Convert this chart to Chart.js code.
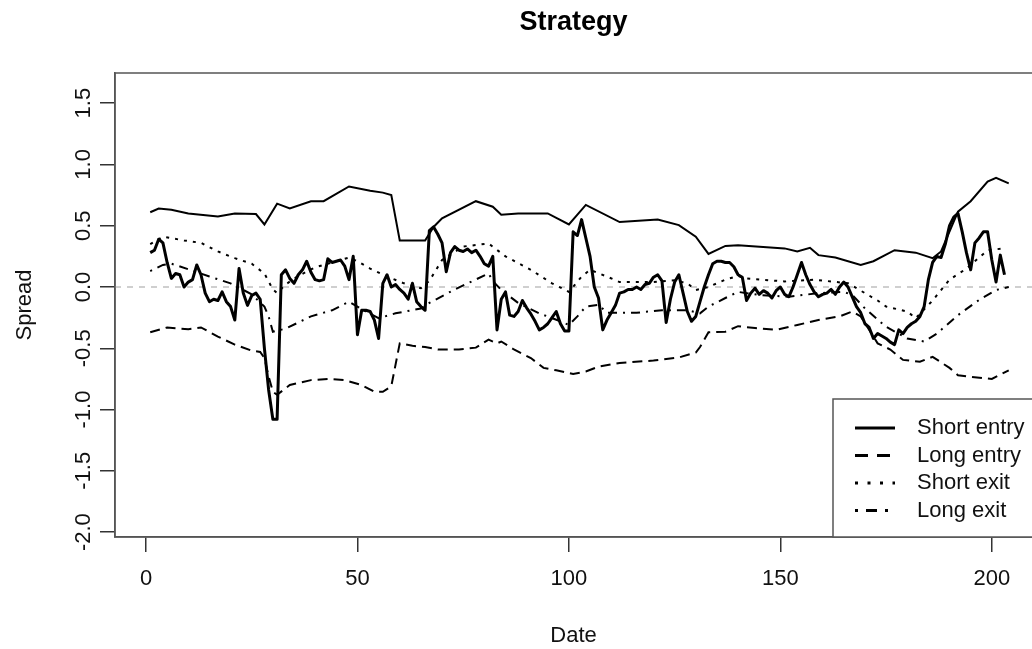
<!DOCTYPE html>
<html>
<head>
<meta charset="utf-8">
<title>Strategy</title>
<script src="https://cdn.jsdelivr.net/npm/chart.js@4.4.1/dist/chart.umd.min.js"></script>
<style>
  html, body { margin: 0; padding: 0; background: #fff; overflow: hidden; }
  #wrap { width: 1032px; height: 649px; }
</style>
</head>
<body>
<div id="wrap"><canvas id="myChart" width="1032" height="649"></canvas></div>
<script>
// spread, one value per date (1..203)
let spreadValues = [
  0.28, 0.30, 0.39, 0.36, 0.20, 0.07, 0.11, 0.10, 0.00, 0.04,
  0.06, 0.18, 0.10, -0.05, -0.12, -0.10, -0.11, -0.04, -0.12, -0.16,
  -0.27, 0.15, -0.05, -0.15, -0.07, -0.05, -0.10, -0.50, -0.84, -1.08,
  -1.08, 0.10, 0.14, 0.07, 0.03, 0.10, 0.14, 0.21, 0.12, 0.06,
  0.05, 0.06, 0.23, 0.20, 0.21, 0.22, 0.17, 0.06, 0.25, -0.39,
  -0.19, -0.19, -0.20, -0.27, -0.42, 0.03, 0.10, 0.00, 0.02, -0.02,
  -0.05, -0.10, 0.03, -0.12, -0.16, -0.19, 0.46, 0.49, 0.43, 0.36,
  0.125, 0.28, 0.33, 0.30, 0.29, 0.31, 0.28, 0.30, 0.25, 0.19,
  0.17, 0.25, -0.35, -0.10, -0.04, -0.23, -0.24, -0.20, -0.11, -0.17,
  -0.22, -0.28, -0.35, -0.33, -0.30, -0.25, -0.20, -0.30, -0.36, -0.36,
  0.45, 0.42, 0.55, 0.40, 0.25, 0.00, -0.09, -0.35, -0.27, -0.21,
  -0.15, -0.05, -0.04, -0.02, -0.02, 0.00, -0.02, 0.02, 0.03, 0.08,
  0.10, 0.05, -0.29, -0.10, 0.04, 0.10, -0.05, -0.20, -0.28, -0.24,
  -0.12, 0.00, 0.10, 0.19, 0.21, 0.21, 0.20, 0.20, 0.165, 0.10,
  0.08, -0.11, -0.05, -0.01, -0.06, -0.03, -0.05, -0.09, -0.03, 0.00,
  -0.06, -0.08, 0.00, 0.10, 0.20, 0.10, 0.02, -0.04, -0.08, -0.06,
  -0.05, -0.02, -0.06, 0.00, 0.04, 0.00, -0.08, -0.16, -0.21, -0.30,
  -0.33, -0.42, -0.38, -0.40, -0.42, -0.45, -0.47, -0.35, -0.38, -0.33,
  -0.30, -0.28, -0.24, -0.16, 0.06, 0.20, 0.25, 0.24, 0.35, 0.50,
  0.57, 0.60, 0.45, 0.28, 0.14, 0.36, 0.40, 0.45, 0.45, 0.22,
  0.04, 0.26, 0.10
];
let spreadDates = spreadValues.map((v, i) => i + 1);

let shortEntryDates = [1, 3, 6, 10, 17, 21, 26, 28, 31, 34, 39, 42, 48, 53, 56, 58, 60, 66, 68, 70,
  78, 82, 84, 88, 95, 100, 104, 112, 121, 126, 130, 133, 137, 140, 151, 154, 157, 159, 163, 169,
  172, 177, 182, 186, 188, 192, 195, 199, 201, 204];
let shortEntryValues = [0.61, 0.64, 0.63, 0.60, 0.575, 0.60, 0.595, 0.51, 0.68, 0.64, 0.70, 0.70, 0.82, 0.785, 0.77, 0.75, 0.38, 0.38, 0.49, 0.56,
  0.70, 0.655, 0.59, 0.60, 0.60, 0.51, 0.67, 0.53, 0.55, 0.505, 0.41, 0.27, 0.335, 0.34, 0.315, 0.29, 0.32, 0.26, 0.24, 0.18,
  0.21, 0.30, 0.28, 0.235, 0.29, 0.615, 0.70, 0.86, 0.89, 0.845];

let longEntryDates = [1, 5, 10, 13, 17, 21, 25, 27, 28, 29, 30, 31, 34, 39, 43, 47, 51, 54, 56, 58,
  60, 63, 66, 69, 74, 78, 81, 83, 84, 87, 91, 94, 97, 101, 104, 107, 112, 120, 126, 130,
  131, 133, 137, 140, 144, 149, 154, 159, 164, 167, 169, 173, 176, 179, 183, 186, 190, 192, 198, 200, 204];
let longEntryValues = [-0.37, -0.33, -0.345, -0.33, -0.405, -0.47, -0.52, -0.53, -0.58, -0.73, -0.855, -0.88, -0.80, -0.76, -0.75, -0.76, -0.80, -0.855, -0.855, -0.81,
  -0.46, -0.48, -0.49, -0.51, -0.51, -0.495, -0.43, -0.46, -0.445, -0.51, -0.58, -0.66, -0.68, -0.71, -0.69, -0.65, -0.62, -0.60, -0.575, -0.535,
  -0.49, -0.37, -0.365, -0.32, -0.335, -0.35, -0.31, -0.27, -0.24, -0.20, -0.24, -0.46, -0.51, -0.595, -0.61, -0.57, -0.66, -0.72, -0.745, -0.75, -0.68];

let shortExitDates = [1, 4, 9, 13, 17, 21, 25, 28, 30, 31, 33, 36, 40, 44, 48, 50, 53, 57, 61, 65,
  67, 70, 75, 81, 85, 91, 96, 100, 103, 105, 109, 112, 120, 125, 128, 130, 133, 137, 140, 142,
  151, 158, 166, 173, 175, 180, 182, 186, 190, 194, 199, 203];
let shortExitValues = [0.35, 0.41, 0.38, 0.36, 0.29, 0.235, 0.19, 0.11, -0.02, -0.05, 0.02, 0.09, 0.16, 0.20, 0.24, 0.21, 0.15, 0.085, 0.03, -0.01,
  0.05, 0.22, 0.33, 0.355, 0.25, 0.14, 0.03, -0.04, 0.085, 0.14, 0.085, 0.04, 0.04, 0.055, 0.03, -0.025, 0.00, 0.06, 0.09, 0.07,
  0.045, 0.06, 0.03, -0.11, -0.16, -0.20, -0.255, -0.11, 0.06, 0.15, 0.30, 0.315];

let longExitDates = [1, 4, 6, 10, 15, 20, 25, 28, 29, 30, 33, 39, 44, 48, 52, 55, 59, 65, 67, 73,
  77, 81, 82, 84, 88, 93, 98, 100, 102, 104, 107, 109, 116, 122, 128, 131, 133, 137, 140, 145,
  152, 159, 165, 167, 170, 175, 180, 184, 187, 192, 197, 201, 204];
let longExitValues = [0.13, 0.18, 0.19, 0.145, 0.085, 0.03, -0.06, -0.16, -0.24, -0.365, -0.34, -0.24, -0.19, -0.12, -0.20, -0.255, -0.215, -0.175, -0.13, -0.02,
  0.045, 0.11, 0.05, -0.025, -0.13, -0.215, -0.28, -0.31, -0.24, -0.16, -0.145, -0.21, -0.21, -0.19, -0.19, -0.215, -0.16, -0.09, -0.04, -0.065,
  -0.08, -0.05, -0.04, -0.065, -0.175, -0.325, -0.42, -0.445, -0.38, -0.23, -0.105, -0.025, 0.0];

let legendLabels = ['Short entry', 'Long entry', 'Short exit', 'Long exit'];
let xTicks = [0, 50, 100, 150, 200];
let yTicks = [-2.0, -1.5, -1.0, -0.5, 0.0, 0.5, 1.0, 1.5];

let FONT = "'Liberation Sans', Arial, Helvetica, sans-serif";

function pts(xs, ys) {
  return xs.map((x, i) => ({ x: x, y: ys[i] }));
}

// box, zero line, rotated y labels and the legend, R style
let rStyle = {
  id: 'rStyle',
  beforeDatasetsDraw(chart) {
    let c = chart.ctx, a = chart.chartArea, y0 = chart.scales.y.getPixelForValue(0);
    c.save();
    c.strokeStyle = '#cfcfcf';
    c.lineWidth = 2;
    c.setLineDash([6, 6]);
    c.beginPath();
    c.moveTo(a.left, y0);
    c.lineTo(a.right, y0);
    c.stroke();
    c.restore();
  },
  afterDraw(chart) {
    let c = chart.ctx, a = chart.chartArea, ys = chart.scales.y;
    c.save();
    c.strokeStyle = '#555';
    c.lineWidth = 1.5;
    c.strokeRect(a.left, a.top, a.right - a.left + 20, a.bottom - a.top);

    c.fillStyle = '#111';
    c.font = '22px ' + FONT;
    c.textAlign = 'center';
    c.textBaseline = 'alphabetic';
    yTicks.forEach(v => {
      c.save();
      c.translate(a.left - 25, ys.getPixelForValue(v));
      c.rotate(-Math.PI / 2);
      c.fillText(v.toFixed(1), 0, 0);
      c.restore();
    });

    // legend, bottom right inside the box
    let lx = a.right - 199, ly = a.bottom - 138;
    c.fillStyle = '#fff';
    c.fillRect(lx, ly, a.right - lx + 20, a.bottom - ly);
    c.strokeRect(lx, ly, a.right - lx + 20, a.bottom - ly);
    let sets = chart.data.datasets.slice(1);
    legendLabels.forEach((lab, i) => {
      let yy = ly + 29 + i * 27.5;
      c.strokeStyle = '#000';
      c.lineWidth = 3;
      c.setLineDash(sets[i].legendDash);
      c.beginPath();
      c.moveTo(lx + 22, yy);
      c.lineTo(lx + 62, yy);
      c.stroke();
      c.setLineDash([]);
      c.fillStyle = '#111';
      c.textAlign = 'left';
      c.textBaseline = 'middle';
      c.fillText(lab, lx + 84, yy);
    });
    c.restore();
  }
};

let myChart = new Chart(document.getElementById('myChart').getContext('2d'), {
  type: 'line',
  data: {
    datasets: [
      { label: 'Spread', data: pts(spreadDates, spreadValues), borderColor: '#000', borderWidth: 3, borderJoinStyle: 'round' },
      { label: 'Short entry', data: pts(shortEntryDates, shortEntryValues), borderColor: '#000', borderWidth: 2, legendDash: [] },
      { label: 'Long entry', data: pts(longEntryDates, longEntryValues), borderColor: '#000', borderWidth: 2, borderDash: [10, 6], legendDash: [13, 9] },
      { label: 'Short exit', data: pts(shortExitDates, shortExitValues), borderColor: '#000', borderWidth: 2, borderDash: [3, 6], legendDash: [3, 9.5] },
      { label: 'Long exit', data: pts(longExitDates, longExitValues), borderColor: '#000', borderWidth: 2, borderDash: [2, 6, 9, 6], legendDash: [3, 8, 11, 8] }
    ]
  },
  options: {
    responsive: false,
    animation: false,
    devicePixelRatio: 1,
    layout: { padding: 0 },
    elements: { point: { radius: 0 }, line: { tension: 0, fill: false } },
    plugins: {
      legend: { display: false },
      tooltip: { enabled: false },
      title: {
        display: true,
        fullSize: false,
        text: 'Strategy',
        color: '#000',
        font: { family: FONT, size: 27, weight: 'bold' },
        padding: { top: 6, bottom: 34.6 }
      }
    },
    scales: {
      x: {
        type: 'linear',
        min: -7.33,
        max: 209.5,
        afterBuildTicks: s => { s.ticks = xTicks.map(v => ({ value: v })); },
        afterFit: s => { s.height = 112; },
        grid: { drawOnChartArea: false, drawTicks: true, tickLength: 15, color: '#333', lineWidth: 1.5 },
        border: { display: true, color: '#555', width: 1.5 },
        ticks: { color: '#111', font: { family: FONT, size: 22 }, padding: 14, maxRotation: 0, autoSkip: false },
        title: { display: true, text: 'Date', color: '#111', font: { family: FONT, size: 22 }, padding: { top: 0, bottom: 0 } }
      },
      y: {
        min: -2.04,
        max: 1.746,
        afterBuildTicks: s => { s.ticks = yTicks.map(v => ({ value: v })); },
        afterFit: s => { s.width = 115; },
        grid: { drawOnChartArea: false, drawTicks: true, tickLength: 15, color: '#333', lineWidth: 1.5 },
        border: { display: true, color: '#555', width: 1.5 },
        ticks: { display: false },
        title: { display: true, text: 'Spread', color: '#111', font: { family: FONT, size: 22 }, padding: { top: 12, bottom: 0 } }
      }
    }
  },
  plugins: [rStyle]
});
</script>
</body>
</html>
